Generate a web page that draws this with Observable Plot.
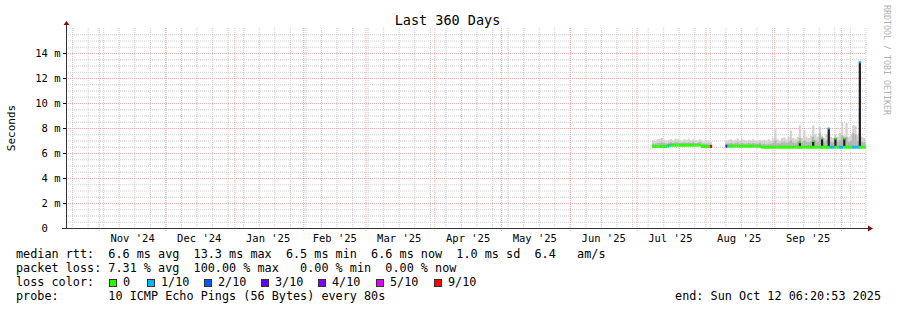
<!DOCTYPE html>
<html><head><meta charset="utf-8">
<script src="https://cdn.jsdelivr.net/npm/d3@7"></script>
<script src="https://cdn.jsdelivr.net/npm/@observablehq/plot@0.6"></script>
<style>
body{margin:0;background:#fff;}
#wrap{position:relative;width:897px;height:310px;overflow:hidden;background:#fff;}
#wrap svg{position:absolute;left:0;top:0;}
.mono{font-family:"DejaVu Sans Mono",monospace;white-space:pre;}
</style></head>
<body><div id="wrap"></div>
<script>
// ---------- data ----------
const titleText = "Last 360 Days";
const yLabel = "Seconds";
const rangeStart = "2024-10-17T06:20:53Z";
const rangeEnd = "2025-10-12T06:20:53Z";

const yTicks = [0, 2, 4, 6, 8, 10, 12, 14];
const yTickLabels = ["0\u00a0\u00a0", "2 m", "4 m", "6 m", "8 m", "10 m", "12 m", "14 m"];
const yMinorTicks = [0.5,1,1.5,2.5,3,3.5,4.5,5,5.5,6.5,7,7.5,8.5,9,9.5,10.5,11,11.5,12.5,13,13.5,14.5,15,15.5];
const xLabelDates = ["2024-11-16","2024-12-16","2025-01-16","2025-02-15","2025-03-16","2025-04-16","2025-05-16","2025-06-16","2025-07-16","2025-08-16","2025-09-16"];
const xTickLabels = ["Nov '24","Dec '24","Jan '25","Feb '25","Mar '25","Apr '25","May '25","Jun '25","Jul '25","Aug '25","Sep '25"];

const days = [
 "2025-07-08","2025-07-09","2025-07-10","2025-07-11","2025-07-12","2025-07-13","2025-07-14",
 "2025-07-15","2025-07-16","2025-07-17","2025-07-18","2025-07-19","2025-07-20","2025-07-21",
 "2025-07-22","2025-07-23","2025-07-24","2025-07-25","2025-07-26","2025-07-27","2025-07-28",
 "2025-07-29","2025-07-30","2025-07-31","2025-08-01","2025-08-02","2025-08-03",
 "2025-08-10","2025-08-11","2025-08-12","2025-08-13","2025-08-14","2025-08-15","2025-08-16",
 "2025-08-17","2025-08-18","2025-08-19","2025-08-20","2025-08-21","2025-08-22","2025-08-23",
 "2025-08-24","2025-08-25","2025-08-26","2025-08-27","2025-08-28","2025-08-29","2025-08-30","2025-08-31",
 "2025-09-01","2025-09-02","2025-09-03","2025-09-04","2025-09-05","2025-09-06","2025-09-07",
 "2025-09-08","2025-09-09","2025-09-10","2025-09-11","2025-09-12","2025-09-13","2025-09-14",
 "2025-09-15","2025-09-16","2025-09-17","2025-09-18","2025-09-19","2025-09-20","2025-09-21",
 "2025-09-22","2025-09-23","2025-09-24","2025-09-25","2025-09-26","2025-09-27","2025-09-28",
 "2025-09-29","2025-09-30","2025-10-01","2025-10-02","2025-10-03","2025-10-04","2025-10-05",
 "2025-10-06","2025-10-07","2025-10-08","2025-10-09","2025-10-10","2025-10-11","2025-10-12"
];
const medianMs = [
 6.56,6.56,6.56,6.56,6.56,6.56,6.56,
 6.62,6.66,6.66,6.66,6.66,6.66,6.66,
 6.66,6.66,6.66,6.66,6.66,6.66,6.66,
 6.66,6.56,6.56,6.56,6.56,6.56,
 6.58,6.58,6.58,6.58,6.58,6.58,6.58,
 6.58,6.58,6.58,6.58,6.58,6.58,6.58,
 6.58,6.58,6.5,6.5,6.5,6.5,6.5,6.5,
 6.5,6.5,6.5,6.5,6.5,6.5,6.5,
 6.5,6.5,6.5,6.5,6.5,6.5,6.5,
 6.5,6.5,6.5,6.5,6.5,6.5,6.5,
 6.5,6.5,6.5,6.5,6.5,6.5,6.5,
 6.5,6.5,6.5,6.5,6.5,6.5,6.5,
 6.5,6.5,6.5,6.5,6.5,6.5,6.5
];
const smokeMaxMs = [
 7.0,6.95,7.1,7.15,7.2,7.05,7.0,
 7.05,7.1,7.0,7.15,7.1,7.05,7.0,
 7.1,7.05,7.15,7.0,7.1,7.05,7.0,
 7.1,7.0,6.95,7.05,7.0,6.9,
 7.0,7.05,7.1,7.0,7.05,7.15,7.0,
 7.1,7.05,7.0,7.05,7.0,7.1,7.0,
 6.95,7.05,7.0,7.05,7.0,7.1,7.0,7.15,
 7.9,7.1,7.0,7.2,7.25,7.1,7.3,
 7.8,7.2,7.1,7.3,8.2,7.2,7.8,
 7.3,7.2,7.4,8.2,7.5,7.3,8.1,
 7.4,7.2,7.5,7.6,7.3,7.2,7.5,
 7.3,7.6,8.5,7.4,8.4,7.3,7.5,
 8.2,8.2,7.4,7.6,7.3,7.2,7.0
];
const smokeDarkMs = [
 6.75,6.75,6.8,6.8,6.85,6.8,6.75,
 6.8,6.85,6.8,6.85,6.85,6.8,6.8,
 6.85,6.8,6.85,6.8,6.85,6.8,6.8,
 6.85,6.75,6.75,6.75,6.75,6.7,
 6.75,6.75,6.8,6.75,6.8,6.85,6.75,
 6.8,6.75,6.75,6.8,6.75,6.8,6.75,
 6.75,6.8,6.7,6.75,6.7,6.75,6.7,6.8,
 7.0,6.8,6.75,6.85,6.9,6.8,6.9,
 7.0,6.85,6.8,6.9,7.2,6.85,7.0,
 6.9,6.85,6.95,7.3,7.0,6.9,7.6,
 6.95,6.85,7.0,7.1,6.9,6.85,7.0,
 6.9,7.0,7.4,6.95,7.3,6.9,7.0,
 7.6,7.5,6.95,7.0,6.9,6.85,6.75
];
const lossIdx = [
 0,0,0,0,0,0,0,
 1,0,0,0,0,0,0,
 0,0,0,0,0,0,0,
 0,0,0,0,0,9,
 3,0,0,0,0,0,0,
 0,0,0,0,0,0,0,
 0,0,0,0,0,0,0,0,
 0,0,0,0,0,0,0,
 0,0,0,0,0,0,0,
 0,0,0,0,0,0,0,
 0,0,0,0,1,1,0,
 0,1,1,0,0,0,0,
 1,1,1,0,0,0,0
];
const spikeDays = ["2025-09-12","2025-09-18","2025-09-22","2025-09-25","2025-09-28","2025-10-02","2025-10-09"];
const spikeTopMs = [6.9, 7.0, 7.2, 8.0, 7.2, 7.2, 13.3];
const spikeLoss = [0, 0, 0, 1, 0, 0, 1];

const lossValues = [0, 1, 2, 3, 4, 5, 9];
const lossColors = ["#26ff00", "#00b8ff", "#0059ff", "#5e00ff", "#7e00ff", "#dd00ff", "#ff0000"];
const lossLabels = ["0", "1/10", "2/10", "3/10", "4/10", "5/10", "9/10"];

const statsLine = "median rtt:  6.6 ms avg  13.3 ms max  6.5 ms min  6.6 ms now  1.0 ms sd  6.4   am/s";
const lossLine = "packet loss: 7.31 % avg  100.00 % max   0.00 % min  0.00 % now";
const lossColorLabel = "loss color:";
const probeLine = "probe:       10 ICMP Echo Pings (56 Bytes) every 80s";
const endLine = "end: Sun Oct 12 06:20:53 2025";
const watermark = "RRDTOOL / TOBI OETIKER";

// ---------- build ----------
const start = new Date(rangeStart), end = new Date(rangeEnd);
const day = s => new Date(s + "T00:00:00Z");
const rows = days.map((d, i) => ({
  date: day(d), next: d3.utcDay.offset(day(d), 1),
  med: medianMs[i], max: smokeMaxMs[i], dark: smokeDarkMs[i], loss: lossIdx[i]
}));
const medByDay = new Map(days.map((d, i) => [d, medianMs[i]]));
const spikes = spikeDays.map((d, i) => ({
  date: day(d), next: d3.utcDay.offset(day(d), 1),
  base: medByDay.get(d), top: spikeTopMs[i], loss: spikeLoss[i]
}));
const yLab = new Map(yTicks.map((v, i) => [v, yTickLabels[i]]));
const xLabDates = xLabelDates.map(day);
const xLab = new Map(xLabDates.map((d, i) => [+d, xTickLabels[i]]));
const weeks = d3.utcWeek.range(start, end);
const months = d3.utcMonth.range(start, end);

const minorStroke = "#cccccc", majorStroke = "#f5aaaa";

const plot = Plot.plot({
  width: 897, height: 245,
  marginLeft: 66, marginRight: 31, marginTop: 28, marginBottom: 17,
  style: {fontFamily: "DejaVu Sans Mono, monospace", fontSize: "10.5px", color: "#000", background: "transparent", overflow: "visible"},
  x: {type: "utc", domain: [start, end]},
  y: {domain: [0, 16]},
  color: {type: "ordinal", domain: lossValues, range: lossColors},
  marks: [
    Plot.gridX({ticks: weeks, stroke: minorStroke, strokeOpacity: 1, strokeDasharray: "1,1"}),
    Plot.gridY({ticks: yMinorTicks, stroke: minorStroke, strokeOpacity: 1, strokeDasharray: "1,1"}),
    Plot.gridX({ticks: months, stroke: majorStroke, strokeOpacity: 1, strokeDasharray: "1,1"}),
    Plot.gridY({ticks: yTicks.filter(v => v > 0), stroke: majorStroke, strokeOpacity: 1, strokeDasharray: "1,1"}),
    Plot.axisX({ticks: months, tickSize: 3, tickFormat: () => "", stroke: majorStroke, strokeDasharray: "1,1", label: null}),
    Plot.rectY(rows, {x1: "date", x2: "next", y1: "med", y2: "max", fill: "#d2d2d2", clip: true}),
    Plot.rectY(rows, {x1: "date", x2: "next", y1: "med", y2: "dark", fill: "#b4b4b4", clip: true}),
    Plot.rectY(spikes, {x1: "date", x2: "next", y1: "base", y2: "top", fill: "#1e1e1e", clip: true}),
    Plot.ruleY(rows, {x1: "date", x2: "next", y: "med", stroke: "loss", strokeWidth: 3, clip: true}),
    Plot.ruleY(spikes, {x1: "date", x2: "next", y: "top", stroke: "loss", strokeWidth: 2, clip: true}),
    Plot.axisY({ticks: yTicks, tickFormat: d => yLab.get(d), tickSize: 3, tickPadding: 3, label: null}),
    Plot.axisX({ticks: xLabDates, tickFormat: d => xLab.get(+d), tickSize: 0, tickPadding: 6, label: null})
  ]
});

const wrap = document.getElementById("wrap");
wrap.appendChild(plot);

const sx = plot.scale("x"), sy = plot.scale("y");
const x0 = sx.range[0], x1 = sx.range[1];
const yBase = sy.apply(0), yTop = sy.range[1];

const ov = d3.select(wrap).append("svg").attr("width", 897).attr("height", 310)
  .style("font-family", "DejaVu Sans Mono, monospace");

// axes + arrows
ov.append("line").attr("x1", x0 + 0.5).attr("x2", x0 + 0.5).attr("y1", yBase).attr("y2", yTop - 4)
  .attr("stroke", "#333").attr("stroke-width", 1);
ov.append("line").attr("x1", x0 - 4).attr("x2", x1 + 2).attr("y1", yBase + 0.5).attr("y2", yBase + 0.5)
  .attr("stroke", "#333").attr("stroke-width", 1);
ov.append("path").attr("d", `M${x0 - 2.5},${yTop - 3}L${x0 + 3.5},${yTop - 3}L${x0 + 0.5},${yTop - 7}Z`).attr("fill", "#7f1010");
ov.append("path").attr("d", `M${x1 + 2},${yBase - 2.5}L${x1 + 2},${yBase + 3.5}L${x1 + 7},${yBase + 0.5}Z`).attr("fill", "#7f1010");

// title, y label, watermark
ov.append("text").attr("x", 447.5).attr("y", 25).attr("text-anchor", "middle")
  .attr("font-size", 13.5).text(titleText);
ov.append("text").attr("transform", `translate(15,${(yBase + yTop) / 2}) rotate(-90)`)
  .attr("text-anchor", "middle").attr("font-size", 11).text(yLabel);
ov.append("text").attr("transform", "translate(884,5) rotate(90)")
  .attr("font-size", 8.3).attr("fill", "#b0b0b0").text(watermark);

// legend
const fs = 11.8;
const addLine = (txt, x, y, anchor) => ov.append("text").attr("class", "mono").attr("x", x).attr("y", y)
  .attr("font-size", fs).attr("text-anchor", anchor || "start").style("white-space", "pre").text(txt);
addLine(statsLine, 16, 258);
addLine(lossLine, 16, 272);
addLine(lossColorLabel, 16, 286);
const sqX = [109, 147, 204, 261, 318, 376, 434];
lossLabels.forEach((lab, i) => {
  ov.append("rect").attr("x", sqX[i] + 0.5).attr("y", 279.5).attr("width", 7).attr("height", 7)
    .attr("fill", lossColors[i]).attr("stroke", "#333").attr("stroke-width", 1);
  addLine(lab, sqX[i] + 14, 286);
});
addLine(probeLine, 16, 300);
addLine(endLine, 881, 300, "end");
</script>
</body></html>
